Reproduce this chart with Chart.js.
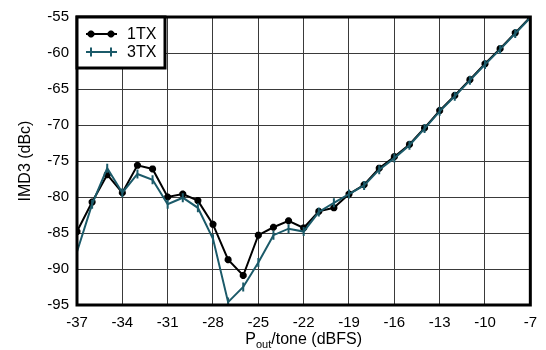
<!DOCTYPE html>
<html lang="en">
<head>
<meta charset="UTF-8">
<title>IMD3 vs Pout/tone</title>
<script src="https://cdn.jsdelivr.net/npm/chart.js@4"></script>
<style>
  html, body { margin: 0; padding: 0; background: #fff; }
  canvas { display: block; }
</style>
</head>
<body>
<canvas id="imd-chart" width="546" height="350"></canvas>
<script>
// Output power per tone (dBFS)
const poutTone = [-37, -36, -35, -34, -33, -32, -31, -30, -29, -28, -27, -26, -25, -24, -23, -22,
  -21, -20, -19, -18, -17, -16, -15, -14, -13, -12, -11, -10, -9, -8, -7];

// IMD3 (dBc)
const imd1TX = [-84.8, -80.7, -76.9, -79.4, -75.6, -76.1, -80.0, -79.6, -80.5, -83.8, -88.7, -90.9,
  -85.3, -84.2, -83.3, -84.3, -82.0, -81.5, -79.6, -78.3, -76.0, -74.4, -72.7, -70.4, -68.0, -65.9,
  -63.7, -61.5, -59.4, -57.2, -55.0];
const imd3TX = [-87.6, -81.0, -76.0, -79.4, -76.8, -77.6, -81.0, -80.1, -81.5, -85.8, -94.6, -92.5,
  -89.1, -85.3, -84.4, -84.8, -82.1, -80.8, -79.6, -78.4, -76.2, -74.6, -72.8, -70.5, -68.1, -66.0,
  -63.8, -61.6, -59.5, -57.3, -55.1];

const seriesLabels = ['1TX', '3TX'];
const seriesColors = ['#000000', '#1b5a69'];
const xTitleParts = ['P', 'out', '/tone (dBFS)'];
const yTitleText = 'IMD3 (dBc)';

const FONT = '"Liberation Sans", Arial, sans-serif';

function toPoints(xs, ys) {
  return xs.map((x, i) => ({ x: x, y: ys[i] }));
}

const pointStyles = [
  { pointStyle: 'star', radius: 3.5, borderWidth: 2.5, rotation: 0 },
  { pointStyle: 'line', radius: 4.5, borderWidth: 2, rotation: 90 }
];

// frame, in-plot legend and x title with subscript
const extrasPlugin = {
  id: 'extras',
  afterDraw(chart) {
    const ctx = chart.ctx;
    const a = chart.chartArea;
    ctx.save();

    // thick frame
    ctx.strokeStyle = '#000';
    ctx.lineWidth = 3;
    ctx.strokeRect(a.left, a.top, a.right - a.left, a.bottom - a.top);

    // legend box
    const bx = a.left, by = a.top, bw = 88, bh = 51;
    ctx.fillStyle = '#fff';
    ctx.fillRect(bx, by, bw, bh);
    ctx.strokeRect(bx, by, bw, bh);

    seriesLabels.forEach((label, i) => {
      const y = by + 17 + i * 18;
      ctx.strokeStyle = seriesColors[i];
      ctx.lineWidth = 2;
      ctx.beginPath();
      ctx.moveTo(bx + 9, y);
      ctx.lineTo(bx + 40, y);
      ctx.stroke();
      const ps = pointStyles[i];
      [bx + 14, bx + 34].forEach(px => {
        ctx.fillStyle = seriesColors[i];
        ctx.strokeStyle = seriesColors[i];
        ctx.lineWidth = ps.borderWidth;
        Chart.helpers.drawPoint(ctx, ps, px, y);
      });
      ctx.fillStyle = '#000';
      ctx.font = '16px ' + FONT;
      ctx.textBaseline = 'middle';
      ctx.textAlign = 'left';
      ctx.fillText(label, bx + 50, y + 1);
    });

    // x axis title: P_out/tone (dBFS)
    const big = '16px ' + FONT, small = '11px ' + FONT;
    ctx.textBaseline = 'alphabetic';
    ctx.font = big;
    const w0 = ctx.measureText(xTitleParts[0]).width;
    const w2 = ctx.measureText(xTitleParts[2]).width;
    ctx.font = small;
    const w1 = ctx.measureText(xTitleParts[1]).width;
    let x = (a.left + a.right) / 2 - (w0 + w1 + w2) / 2;
    const base = 344;
    ctx.fillStyle = '#000';
    ctx.font = big;
    ctx.fillText(xTitleParts[0], x, base);
    x += w0;
    ctx.font = small;
    ctx.fillText(xTitleParts[1], x, base + 4);
    x += w1;
    ctx.font = big;
    ctx.fillText(xTitleParts[2], x, base);

    ctx.restore();
  }
};

const chart = new Chart(document.getElementById('imd-chart'), {
  type: 'line',
  data: {
    datasets: [
      {
        label: seriesLabels[0],
        data: toPoints(poutTone, imd1TX),
        borderColor: seriesColors[0],
        backgroundColor: seriesColors[0],
        borderWidth: 2,
        pointStyle: pointStyles[0].pointStyle,
        pointRadius: pointStyles[0].radius,
        pointBorderWidth: pointStyles[0].borderWidth,
        pointHoverRadius: pointStyles[0].radius,
        tension: 0,
        order: 1
      },
      {
        label: seriesLabels[1],
        data: toPoints(poutTone, imd3TX),
        borderColor: seriesColors[1],
        backgroundColor: seriesColors[1],
        borderWidth: 2,
        pointStyle: pointStyles[1].pointStyle,
        pointRotation: pointStyles[1].rotation,
        pointRadius: pointStyles[1].radius,
        pointBorderWidth: pointStyles[1].borderWidth,
        pointHoverRadius: pointStyles[1].radius,
        tension: 0,
        order: 0
      }
    ]
  },
  options: {
    responsive: false,
    animation: false,
    maintainAspectRatio: false,
    layout: { padding: { top: 15, right: 12, left: 0, bottom: 0 } },
    plugins: {
      legend: { display: false },
      tooltip: { enabled: false }
    },
    scales: {
      x: {
        type: 'linear',
        min: -37,
        max: -7,
        afterFit(scale) { scale.height = 45; },
        ticks: {
          stepSize: 3,
          color: '#000',
          padding: 9,
          maxRotation: 0,
          font: { family: FONT, size: 15 }
        },
        grid: { color: '#3a3a3a', lineWidth: 1, drawTicks: false },
        border: { display: false }
      },
      y: {
        min: -95,
        max: -55,
        afterFit(scale) { scale.width = 77; },
        ticks: {
          stepSize: 5,
          color: '#000',
          padding: 8,
          font: { family: FONT, size: 15 }
        },
        grid: { color: '#3a3a3a', lineWidth: 1, drawTicks: false },
        border: { display: false },
        title: {
          display: true,
          text: yTitleText,
          color: '#000',
          font: { family: FONT, size: 16 },
          padding: { top: 16, bottom: 0 }
        }
      }
    }
  },
  plugins: [extrasPlugin]
});
</script>
</body>
</html>
